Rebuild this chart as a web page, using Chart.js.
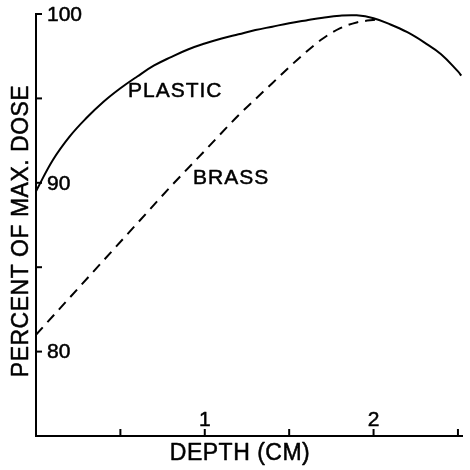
<!DOCTYPE html>
<html>
<head>
<meta charset="utf-8">
<script src="https://cdn.jsdelivr.net/npm/chart.js@4/dist/chart.umd.min.js"></script>
<style>
html,body{margin:0;padding:0;background:#fff;}
#wrap{width:470px;height:470px;}
</style>
</head>
<body>
<div id="wrap"><canvas id="c" width="470" height="470"></canvas></div>
<script>
// Depth (cm) and percent of max dose
const plasticDepth = [0, 0.1, 0.2, 0.3, 0.4, 0.5, 0.6, 0.7, 0.8, 0.9, 1.0, 1.1, 1.2, 1.3, 1.4, 1.5, 1.6, 1.7, 1.8, 1.9, 2.0, 2.1, 2.2, 2.3, 2.4, 2.5, 2.52];
const plasticDose  = [89.5, 91.35, 92.75, 93.85, 94.8, 95.6, 96.3, 96.95, 97.45, 97.9, 98.25, 98.55, 98.8, 99.05, 99.25, 99.45, 99.62, 99.78, 99.9, 99.92, 99.75, 99.38, 98.92, 98.32, 97.62, 96.6, 96.35];
const brassDepth = [0, 0.2, 0.4, 0.6, 0.8, 1.0, 1.2, 1.4, 1.5, 1.6, 1.7, 1.8, 1.9, 2.02];
const brassDose  = [81.0, 83.2, 85.4, 87.6, 89.8, 91.9, 94.0, 95.9, 96.85, 97.75, 98.55, 99.15, 99.5, 99.68];

const xTickValues = [0.5, 1, 1.5, 2, 2.5];
const xTickLabels = ["", "1", "", "2", ""];
const yTickValues = [80, 85, 90, 95, 100];
const yTickLabels = ["80", "", "90", "", "100"];

const curveLabels = ["PLASTIC", "BRASS"];
const curveLabelX = [0.545, 0.93];
const curveLabelY = [95.1, 89.9];

const xTitle = "DEPTH (CM)";
const yTitle = "PERCENT OF MAX. DOSE";

const toPts = (xs, ys) => xs.map((x, i) => ({x: x, y: ys[i]}));

const FONT = '"Liberation Sans", Arial, sans-serif';

function boldText(ctx, t, x, y) {
  ctx.fillText(t, x, y);
  ctx.strokeText(t, x, y);
}

const decor = {
  id: 'decor',
  afterDraw(chart) {
    const ctx = chart.ctx;
    const xs = chart.scales.x, ys = chart.scales.y;
    const a = chart.chartArea;
    ctx.save();
    ctx.strokeStyle = '#000';
    ctx.fillStyle = '#000';
    ctx.lineWidth = 2;
    // y ticks (inward)
    yTickValues.forEach(v => {
      const py = ys.getPixelForValue(v);
      ctx.beginPath();
      ctx.moveTo(a.left, py);
      ctx.lineTo(a.left + 6, py);
      ctx.stroke();
    });
    // x ticks (inward)
    xTickValues.forEach(v => {
      const px = xs.getPixelForValue(v);
      ctx.beginPath();
      ctx.moveTo(px, a.bottom);
      ctx.lineTo(px, a.bottom - 7);
      ctx.stroke();
    });
    ctx.lineWidth = 0.5;
    ctx.lineJoin = 'round';
    ctx.font = '21px ' + FONT;
    ctx.textBaseline = 'middle';
    ctx.textAlign = 'left';
    yTickLabels.forEach((t, i) => {
      if (!t) return;
      boldText(ctx, t, a.left + 11, ys.getPixelForValue(yTickValues[i]) + 1);
    });
    ctx.textAlign = 'center';
    xTickLabels.forEach((t, i) => {
      if (!t) return;
      boldText(ctx, t, xs.getPixelForValue(xTickValues[i]), a.bottom - 16);
    });
    // curve labels
    if ('letterSpacing' in ctx) ctx.letterSpacing = '1px';
    ctx.textAlign = 'left';
    ctx.textBaseline = 'alphabetic';
    curveLabels.forEach((t, i) => {
      boldText(ctx, t, xs.getPixelForValue(curveLabelX[i]), ys.getPixelForValue(curveLabelY[i]));
    });
    // axis titles
    if ('letterSpacing' in ctx) ctx.letterSpacing = '0.5px';
    ctx.font = '23px ' + FONT;
    ctx.textAlign = 'center';
    ctx.textBaseline = 'middle';
    boldText(ctx, xTitle, 240, 454);
    ctx.save();
    ctx.translate(22, 231);
    ctx.rotate(-Math.PI / 2);
    boldText(ctx, yTitle, 0, 0);
    ctx.restore();
    ctx.restore();
  }
};

new Chart(document.getElementById('c'), {
  type: 'scatter',
  data: {
    datasets: [
      {
        label: 'BRASS',
        data: toPts(brassDepth, brassDose),
        showLine: true,
        borderColor: '#000',
        borderWidth: 2,
        borderDash: [10, 7],
        pointRadius: 0,
        cubicInterpolationMode: 'monotone',
        fill: false
      },
      {
        label: 'PLASTIC',
        data: toPts(plasticDepth, plasticDose),
        showLine: true,
        borderColor: '#000',
        borderWidth: 2,
        pointRadius: 0,
        tension: 0.4,
        fill: false
      }
    ]
  },
  options: {
    responsive: false,
    animation: false,
    devicePixelRatio: 1,
    layout: { padding: { left: 36, top: 14, right: 8, bottom: 34 } },
    plugins: { legend: { display: false }, tooltip: { enabled: false } },
    scales: {
      x: {
        type: 'linear', min: 0, max: 2.524,
        grid: { display: false, drawTicks: false },
        ticks: { display: false },
        border: { display: true, color: '#000', width: 2 }
      },
      y: {
        type: 'linear', min: 75, max: 100,
        grid: { display: false, drawTicks: false },
        ticks: { display: false },
        border: { display: true, color: '#000', width: 2 }
      }
    }
  },
  plugins: [decor]
});
</script>
</body>
</html>
